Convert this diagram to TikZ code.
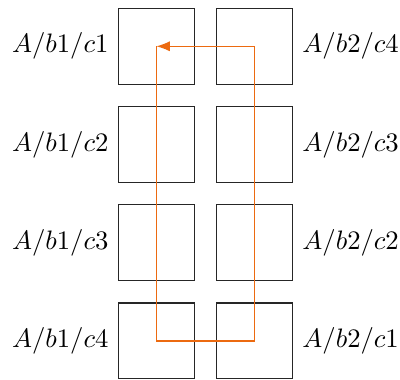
\documentclass[tikz,border=0pt]{standalone}
\usepackage{tikz}
\usetikzlibrary{positioning,arrows.meta}
\usepackage{xcolor}
\definecolor{walkorange}{RGB}{236,106,16}

\begin{document}
\begin{tikzpicture}[x=1cm,y=1cm,node distance=2.8mm,>=Latex]
  \tikzset{
    cell/.style={draw=black!85,minimum size=1cm,inner sep=0pt},
    tag/.style={inner sep=3.33pt},
    walk/.style={draw=walkorange,line width=0.45pt},
  }
  \useasboundingbox (-2.06,-4.39) rectangle (3.21,0.61);

  \node[cell] (b1c1) at (0,0) {};
  \node[cell,below=of b1c1] (b1c2) {};
  \node[cell,below=of b1c2] (b1c3) {};
  \node[cell,below=of b1c3] (b1c4) {};
  \node[cell,right=of b1c1] (b2c4) {};
  \node[cell,below=of b2c4] (b2c3) {};
  \node[cell,below=of b2c3] (b2c2) {};
  \node[cell,below=of b2c2] (b2c1) {};

  \node[tag,left=0pt of b1c1] (t11) {$A/b1/c1$};
  \node[tag,left=0pt of b1c2] (t12) {$A/b1/c2$};
  \node[tag,left=0pt of b1c3] (t13) {$A/b1/c3$};
  \node[tag,left=0pt of b1c4] (t14) {$A/b1/c4$};
  \node[tag,right=0pt of b2c4] (t24) {$A/b2/c4$};
  \node[tag,right=0pt of b2c3] (t23) {$A/b2/c3$};
  \node[tag,right=0pt of b2c2] (t22) {$A/b2/c2$};
  \node[tag,right=0pt of b2c1] (t21) {$A/b2/c1$};

  \draw[walk,->] (b1c1.center) -- (b1c4.center) -- (b2c1.center)
                 -- (b2c4.center) -- (b1c1.center);
\end{tikzpicture}
\end{document}
